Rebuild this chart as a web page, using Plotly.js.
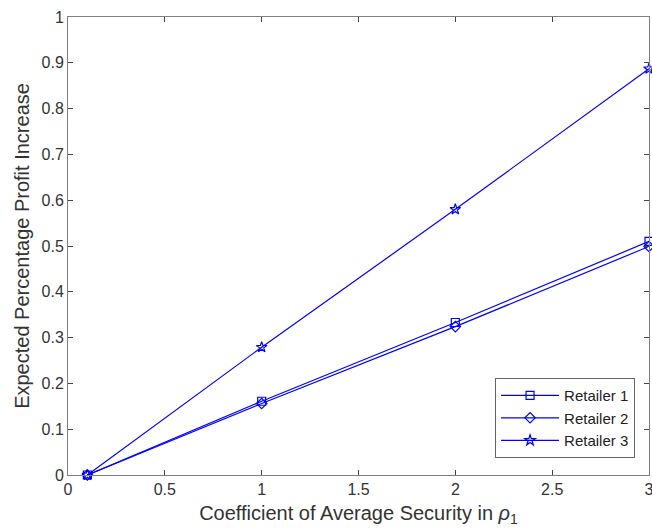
<!DOCTYPE html>
<html>
<head>
<meta charset="utf-8">
<script src="https://cdn.plot.ly/plotly-3.0.1.min.js"></script>
<style>html,body{margin:0;padding:0;background:#fff;}#chart{width:652px;height:531px;}</style>
</head>
<body>
<div id="chart"></div>
<script>
var xValues = [0.1, 1, 2, 3];
var retailer1 = [0, 0.161, 0.333, 0.510];
var retailer2 = [0, 0.156, 0.324, 0.499];
var retailer3 = [0, 0.279, 0.580, 0.887];
var seriesNames = ["Retailer 1", "Retailer 2", "Retailer 3"];
var xTicks = [0, 0.5, 1, 1.5, 2, 2.5, 3];
var xTickText = ["0", "0.5", "1", "1.5", "2", "2.5", "3"];
var yTicks = [0, 0.1, 0.2, 0.3, 0.4, 0.5, 0.6, 0.7, 0.8, 0.9, 1];
var yTickText = ["0", "0.1", "0.2", "0.3", "0.4", "0.5", "0.6", "0.7", "0.8", "0.9", "1"];

var blue = "#0000ff";
function mk(y, name, sym) {
  return {
    x: xValues, y: y, name: name, type: "scatter", mode: "lines+markers",
    line: {color: blue, width: 1.2},
    marker: {symbol: sym, size: 8, color: blue, line: {color: blue, width: 1.2}},
    cliponaxis: false
  };
}
var data = [
  mk(retailer1, seriesNames[0], "square-open"),
  mk(retailer2, seriesNames[1], "diamond-open"),
  mk(retailer3, seriesNames[2], "star-open")
];
var fam = "Liberation Sans, Arial, sans-serif";
var font = {family: fam, size: 16, color: "#333333"};
var axisCommon = {
  showgrid: false, zeroline: false, showline: true, linecolor: "#808080", linewidth: 1,
  mirror: "ticks", ticks: "inside", ticklen: 5, tickcolor: "#444444", tickwidth: 1,
  tickfont: font, ticklabeloverflow: "allow"
};
var layout = {
  width: 652, height: 531,
  margin: {l: 68, r: 3, t: 17, b: 56},
  paper_bgcolor: "#ffffff", plot_bgcolor: "#ffffff",
  font: font,
  showlegend: true,
  legend: {
    x: 0.976, y: 0.037, xanchor: "right", yanchor: "bottom",
    bgcolor: "#ffffff", bordercolor: "#666666", borderwidth: 1,
    font: {family: fam, size: 15, color: "#222222"},
    tracegroupgap: 0, itemwidth: 58
  },
  xaxis: Object.assign({}, axisCommon, {
    range: [0, 3], tickvals: xTicks, ticktext: xTickText,
    title: {text: "Coefficient of Average Security in <i>ρ</i><sub>1</sub>", font: {family: fam, size: 20, color: "#333333"}, standoff: 8}
  }),
  yaxis: Object.assign({}, axisCommon, {
    range: [0, 1], tickvals: yTicks, ticktext: yTickText,
    title: {text: "Expected Percentage Profit Increase", font: {family: fam, size: 20, color: "#333333"}, standoff: 6}
  })
};
Plotly.newPlot("chart", data, layout, {displayModeBar: false, staticPlot: true});
</script>
</body>
</html>
